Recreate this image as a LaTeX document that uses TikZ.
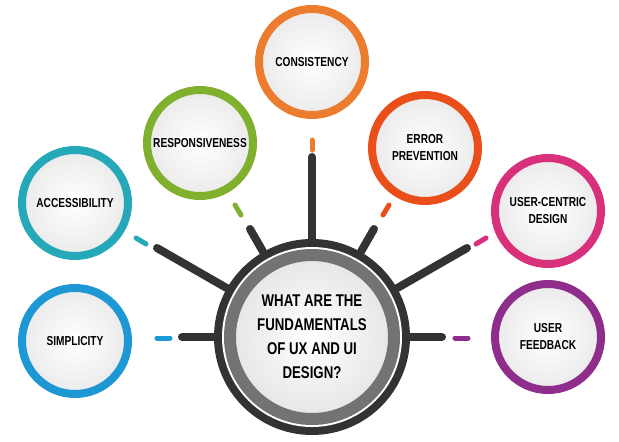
\documentclass[tikz,border=0pt]{standalone}
\usepackage{fontspec}
\setmainfont{Liberation Sans}[FakeStretch=0.78]
\usetikzlibrary{positioning}
\definecolor{Hub}{HTML}{333333}
\definecolor{CConsist}{HTML}{EC7D2E}
\definecolor{CResp}{HTML}{7FB02E}
\definecolor{CError}{HTML}{E94E1B}
\definecolor{CAccess}{HTML}{25A9B9}
\definecolor{CUser}{HTML}{D9307C}
\definecolor{CSimple}{HTML}{1E98D5}
\definecolor{CFeed}{HTML}{8E2D8B}
\tikzset{topic/.style={circle, draw=#1, line width=8pt, minimum size=106pt,
                       inner color=white, outer color=black!8, align=center,
                       inner sep=0pt, font=\bfseries\fontsize{13}{17}\selectfont},
         spoke/.style={draw=Hub, line width=8pt, line cap=round},
         dashbar/.style={draw=#1, line width=5pt, line cap=round}}
\begin{document}
\begin{tikzpicture}[x=1pt,y=-1pt]
\useasboundingbox (0,0) rectangle (619,442);
% hub spokes
\coordinate (c) at (312,337);
\coordinate (up) at (312,157);
\coordinate (lf) at (182,337);
\coordinate (rt) at (442,337);
\coordinate (ld) at (157,248);
\coordinate (rd) at (467,248);
\coordinate (ls) at (250,229);
\coordinate (rs) at (374,229);
\foreach \e in {up,lf,rt,ld,rd,ls,rs} \draw[spoke] (c) -- (\e);
\fill[Hub] (c) circle (98);
\fill[white] (c) circle (90);
\node[circle, draw=black!55, line width=12pt, minimum size=164pt, inner color=white,
      outer color=black!10, align=center, inner sep=0pt,
      font=\bfseries\fontsize{17}{24}\selectfont] (hub) at (c)
      {WHAT ARE THE\\FUNDAMENTALS\\OF UX AND UI\\DESIGN?};
% topics
\node[topic=CConsist] (consist) at (312,62) {CONSISTENCY};
\node[topic=CResp] (resp) at (200,143) {RESPONSIVENESS};
\node[topic=CError] (error) at (425,148) {ERROR\\PREVENTION};
\node[topic=CAccess] (access) at (75,203) {ACCESSIBILITY};
\node[topic=CUser] (ucd) at (548,211) {USER-CENTRIC\\DESIGN};
\node[topic=CSimple] (simple) at (75,341) {SIMPLICITY};
\node[topic=CFeed] (feed) at (548,337) {USER\\FEEDBACK};
% dashes
\draw[dashbar=CConsist] (312,140) -- (312,150);
\draw[dashbar=CResp] (235,205) -- (241,215);
\draw[dashbar=CError] (389,205) -- (383,215);
\draw[dashbar=CAccess] (136,238) -- (146,244);
\draw[dashbar=CUser] (486,238) -- (476,244);
\draw[dashbar=CSimple] (157,338) -- (170,338);
\draw[dashbar=CFeed] (455,338) -- (468,338);
\end{tikzpicture}
\end{document}
